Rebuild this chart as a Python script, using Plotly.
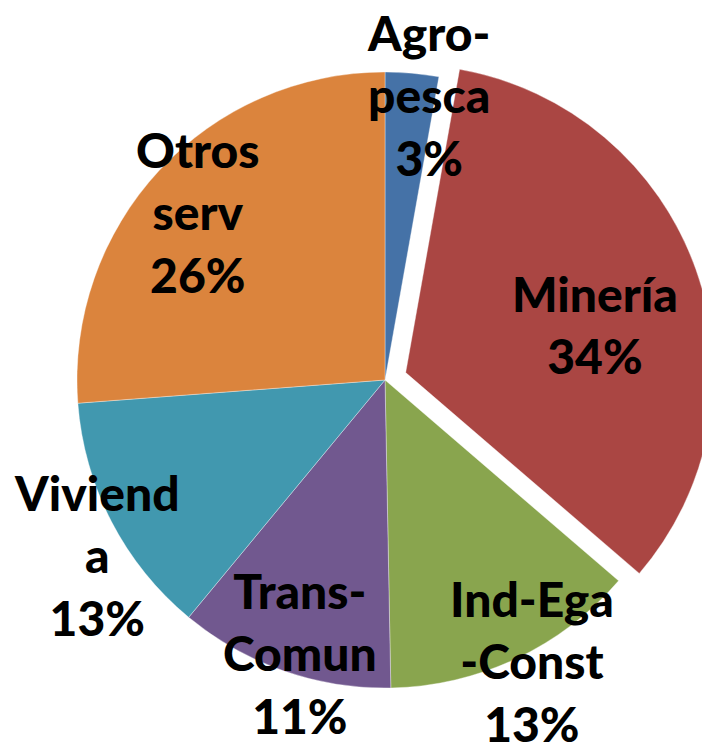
import plotly.graph_objects as go

# ---- data ----
labels = ["Agro-<br>pesca", "Minería", "Ind-Ega<br>-Const", "Trans-<br>Comun", "Viviend<br>a", "Otros<br>serv"]
values = [2.8, 33.5, 13.4, 11.3, 12.8, 26.2]
pulls = [0, 0.0714, 0, 0, 0, 0]
colors = ["#4572A7", "#AA4643", "#89A54E", "#71588F", "#4198AF", "#DB843D"]

# label anchor positions (pixels from top-left of the figure)
label_px = [(428, 95), (595, 324), (532, 661), (300, 653), (97, 555), (198, 212)]

W, H = 720, 751
cx, cy, half = 385, 380, 330

fig = go.Figure(go.Pie(
    labels=labels,
    values=values,
    sort=False,
    direction="clockwise",
    rotation=0,
    pull=pulls,
    marker=dict(colors=colors, line=dict(color="rgba(255,255,255,0.5)", width=0.7)),
    textinfo="none",
    hoverinfo="label+percent",
    showlegend=False,
    domain=dict(x=[(cx - half) / W, (cx + half) / W],
                y=[(H - cy - half) / H, (H - cy + half) / H]),
))

total = sum(values)
for lab, v, (px, py) in zip(labels, values, label_px):
    pct = int(v / total * 100 + 0.5)
    fig.add_annotation(
        x=px / W, y=1 - py / H, xref="paper", yref="paper",
        text=f"{lab}<br>{pct}%",
        showarrow=False, xanchor="center", yanchor="middle", align="center",
        font=dict(family="Lato", size=48, color="#000000", weight=900),
    )

fig.update_layout(
    width=W, height=H,
    margin=dict(l=0, r=0, t=0, b=0),
    paper_bgcolor="white", plot_bgcolor="white",
)

fig.write_html("out.html",
               config={"displayModeBar": False},
               post_script="document.body.style.margin='0';document.body.style.overflow='hidden';document.documentElement.style.overflow='hidden';")
